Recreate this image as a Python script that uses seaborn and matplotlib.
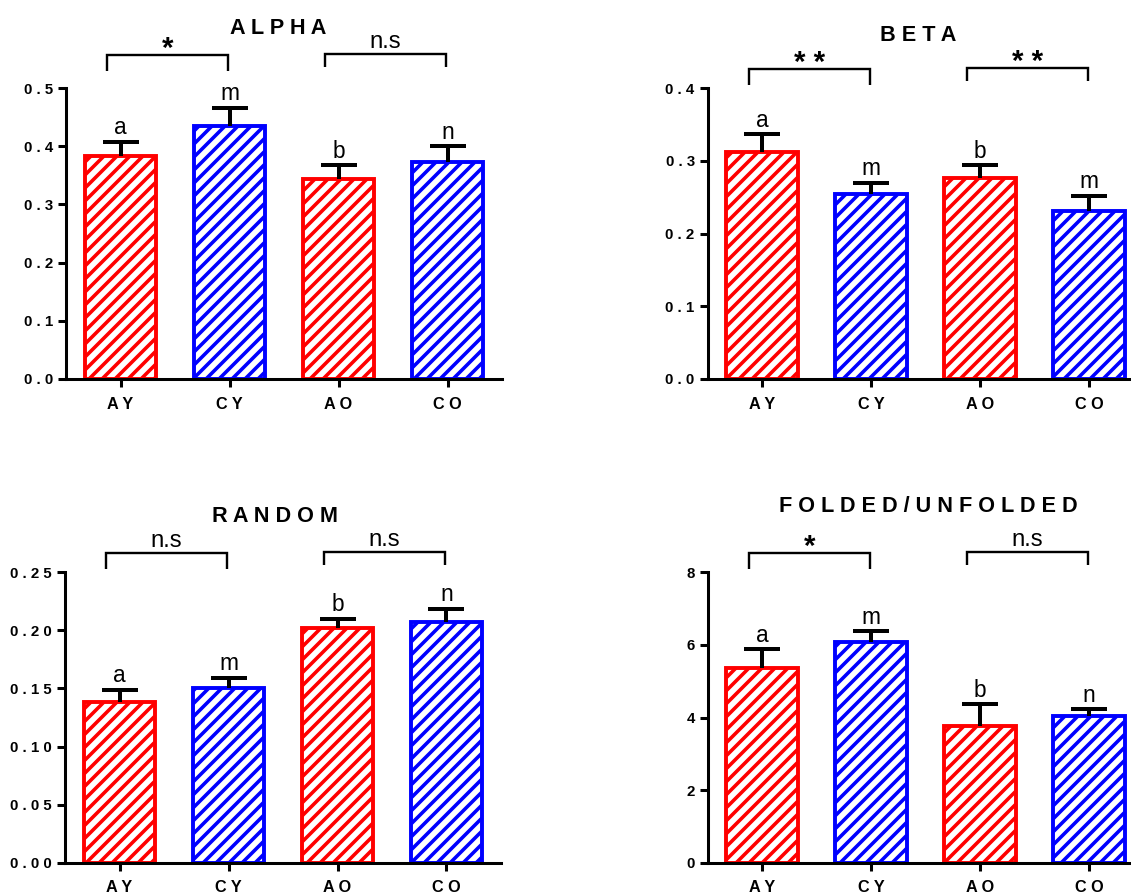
import numpy as np
import pandas as pd
import matplotlib
matplotlib.use("Agg")
import matplotlib.pyplot as plt
import matplotlib.transforms as mtransforms
import seaborn as sns

# ---------------- data ----------------
categories = ["AY", "CY", "AO", "CO"]
bar_colors = ["#FF0000", "#0000FF", "#FF0000", "#0000FF"]

titles = ["ALPHA", "BETA", "RANDOM", "FOLDED/UNFOLDED"]

alpha_mean = [0.384, 0.435, 0.343, 0.372]
alpha_sem = [0.024, 0.031, 0.024, 0.028]
beta_mean = [0.312, 0.255, 0.277, 0.231]
beta_sem = [0.025, 0.015, 0.017, 0.021]
random_mean = [0.138, 0.150, 0.202, 0.2075]
random_sem = [0.011, 0.009, 0.008, 0.011]
folded_mean = [5.36, 6.09, 3.77, 4.05]
folded_sem = [0.52, 0.29, 0.59, 0.18]

alpha_letters = ["a", "m", "b", "n"]
beta_letters = ["a", "m", "b", "m"]
random_letters = ["a", "m", "b", "n"]
folded_letters = ["a", "m", "b", "n"]

alpha_sig = ["*", "n.s"]
beta_sig = ["**", "**"]
random_sig = ["n.s", "n.s"]
folded_sig = ["*", "n.s"]

alpha_yticks = [0.0, 0.1, 0.2, 0.3, 0.4, 0.5]
alpha_yticklabels = ["0.0", "0.1", "0.2", "0.3", "0.4", "0.5"]
beta_yticks = [0.0, 0.1, 0.2, 0.3, 0.4]
beta_yticklabels = ["0.0", "0.1", "0.2", "0.3", "0.4"]
random_yticks = [0.0, 0.05, 0.10, 0.15, 0.20, 0.25]
random_yticklabels = ["0.00", "0.05", "0.10", "0.15", "0.20", "0.25"]
folded_yticks = [0, 2, 4, 6, 8]
folded_yticklabels = ["0", "2", "4", "6", "8"]

comparisons = [(0, 1), (2, 3)]

# ---------------- style ----------------
DPI = 78
sns.set_style("ticks")
plt.rcParams["font.family"] = ["Liberation Sans", "DejaVu Sans"]
plt.rcParams["hatch.linewidth"] = 3.3
plt.rcParams["axes.linewidth"] = 2.8
plt.rcParams["text.color"] = "black"
plt.rcParams["axes.labelcolor"] = "black"
plt.rcParams["xtick.color"] = "black"
plt.rcParams["ytick.color"] = "black"
plt.rcParams["axes.titlecolor"] = "black"


def spaced(s):
    return " ".join(list(s))


fig = plt.figure(figsize=(1131 / DPI, 896 / DPI), dpi=DPI, facecolor="white")

panel_rects = [
    [66 / 1131, 517 / 896, 436 / 1131, 291 / 896],
    [707.7 / 1131, 517 / 896, 436 / 1131, 290.7 / 896],
    [65 / 1131, 33.3 / 896, 436 / 1131, 290.4 / 896],
    [707.7 / 1131, 33.3 / 896, 436 / 1131, 290.4 / 896],
]
title_pads = [49.8, 43.4, 46.6, 55.8]
title_xs = [0.486, 0.482, 0.482, 0.505]
bracket_shifts = [0.048, 0.0, 0.0, 0.0]

panels = [
    (alpha_mean, alpha_sem, alpha_letters, alpha_sig, alpha_yticks, alpha_yticklabels),
    (beta_mean, beta_sem, beta_letters, beta_sig, beta_yticks, beta_yticklabels),
    (random_mean, random_sem, random_letters, random_sig, random_yticks, random_yticklabels),
    (folded_mean, folded_sem, folded_letters, folded_sig, folded_yticks, folded_yticklabels),
]

for k, (means, sems, letters, sig, yticks, yticklabels) in enumerate(panels):
    ax = fig.add_axes(panel_rects[k])
    ax.set_facecolor("white")
    df = pd.DataFrame({"group": categories, "value": means})
    sns.barplot(data=df, x="group", y="value", hue="group", order=categories,
                hue_order=categories, palette=bar_colors, width=0.66,
                errorbar=None, legend=False, ax=ax, linewidth=3.6)
    for p in ax.patches:
        idx = int(round(p.get_x() + p.get_width() / 2))
        p.set_facecolor("white")
        p.set_edgecolor(bar_colors[idx])
        p.set_linewidth(3.6)
        p.set_hatch("//")
        p.set_zorder(2)

    x = np.arange(len(categories))
    eb = ax.errorbar(x, means, yerr=[np.zeros(len(means)), sems], fmt="none",
                     ecolor="black", elinewidth=3.7, capsize=16.6, capthick=3.7,
                     zorder=3)
    eb.lines[1][0].set_visible(False)
    for c in eb.lines[1]:
        c.set_clip_on(False)
    for c in eb.lines[2]:
        c.set_clip_on(False)

    ax.set_xlim(-0.5, 3.5)
    ax.set_ylim(yticks[0], yticks[-1])
    ax.set_yticks(yticks)
    ax.set_yticklabels([spaced(t) for t in yticklabels], fontweight="bold", fontsize=13.8)
    ax.set_xticks(x)
    ax.set_xticklabels([spaced(c) for c in categories], fontweight="bold", fontsize=15)
    ax.set_xlabel("")
    ax.set_ylabel("")
    for s in ["top", "right"]:
        ax.spines[s].set_visible(False)
    for s in ["left", "bottom"]:
        ax.spines[s].set_linewidth(2.8)
        ax.spines[s].set_color("black")
    ax.tick_params(axis="both", length=7.4, width=2.8, color="black", direction="out",
                   labelcolor="black")
    ax.tick_params(axis="y", pad=4.6)
    ax.tick_params(axis="x", pad=9.0)

    # letters above the bars
    for xi, m, s, lab in zip(x, means, sems, letters):
        ax.annotate(lab, (xi, m + s), xytext=(0, 7.0), textcoords="offset points",
                    ha="center", va="baseline", fontsize=21, color="black",
                    annotation_clip=False)

    # significance brackets
    trans = mtransforms.blended_transform_factory(ax.transData, ax.transAxes)
    tops = [1.065, 1.07]
    legs = [1.01, 1.024]
    sh = bracket_shifts[k]
    for (i, j), top, leg, lab in zip(comparisons, tops, legs, sig):
        x0, x1 = i - 0.12, j - 0.015
        ax.plot([x0, x0, x1, x1], [leg + sh, top + sh, top + sh, leg + sh],
                transform=trans, color="black", lw=2.2, clip_on=False,
                solid_joinstyle="miter", solid_capstyle="butt")
        if "*" in lab:
            ax.annotate(spaced(lab), ((x0 + x1) / 2, top + sh), xycoords=trans,
                        xytext=(0, -1.8), textcoords="offset points", ha="center",
                        va="baseline", fontsize=27, fontweight="bold", color="black",
                        annotation_clip=False)
        else:
            ax.annotate(lab, ((x0 + x1) / 2, top + sh), xycoords=trans,
                        xytext=(0, 5.5), textcoords="offset points", ha="center",
                        va="baseline", fontsize=22, color="black",
                        annotation_clip=False)

    ax.set_title(spaced(titles[k]), fontsize=20, fontweight="bold", color="black",
                 pad=title_pads[k], x=title_xs[k])

fig.savefig("out.png", dpi=DPI, facecolor="white")
